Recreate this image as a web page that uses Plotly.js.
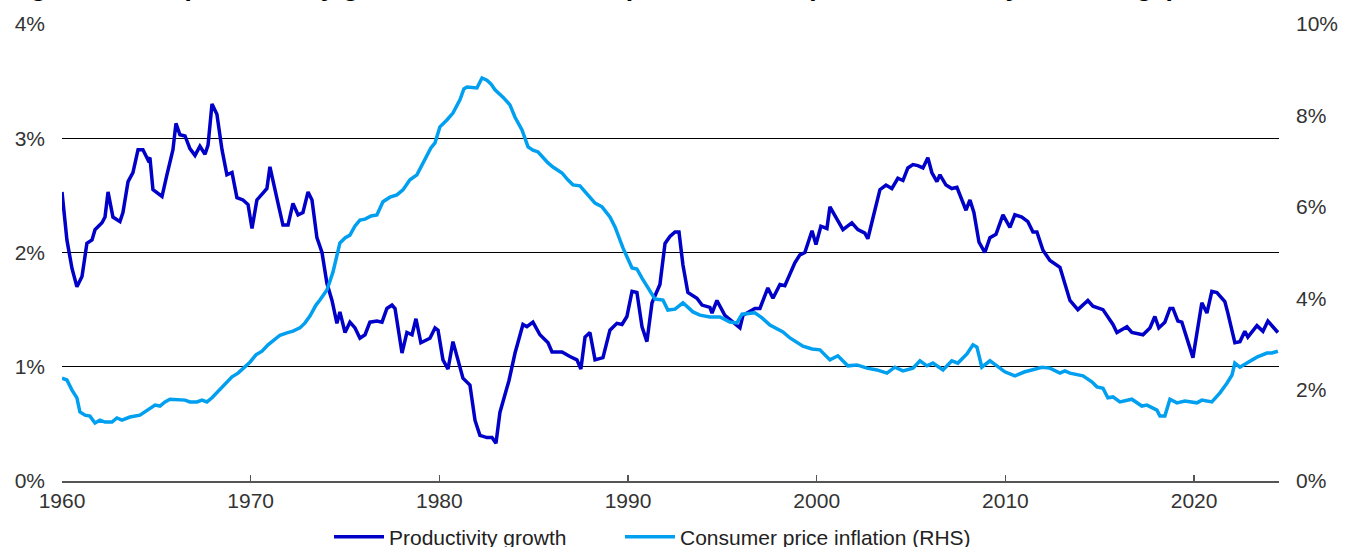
<!DOCTYPE html>
<html>
<head>
<meta charset="utf-8">
<script src="https://cdn.plot.ly/plotly-3.0.1.min.js"></script>
<style>
html,body{margin:0;padding:0;background:#fff;}
#chart{width:1352px;height:547px;}
</style>
</head>
<body>
<div id="chart"></div>
<script>
// Productivity growth (LHS, %)
const prodYears = [1960.00,1960.26,1960.53,1960.79,1961.06,1961.32,1961.59,1961.75,1962.12,1962.28,1962.44,1962.70,1963.07,1963.23,1963.50,1963.76,1964.03,1964.29,1964.56,1964.66,1964.82,1965.30,1965.56,1965.88,1966.04,1966.25,1966.52,1966.78,1967.05,1967.31,1967.58,1967.74,1967.95,1968.21,1968.48,1968.74,1969.01,1969.27,1969.59,1969.86,1970.07,1970.33,1970.65,1970.86,1971.02,1971.18,1971.45,1971.71,1971.98,1972.24,1972.51,1972.77,1973.04,1973.25,1973.51,1973.78,1974.04,1974.31,1974.57,1974.73,1975.00,1975.26,1975.53,1975.79,1976.06,1976.32,1976.69,1976.96,1977.22,1977.49,1977.65,1978.02,1978.28,1978.55,1978.76,1979.02,1979.50,1979.77,1979.93,1980.19,1980.46,1980.72,1980.93,1981.25,1981.62,1981.89,1982.15,1982.52,1982.79,1983.00,1983.21,1983.48,1983.69,1984.01,1984.43,1984.64,1984.96,1985.33,1985.76,1985.97,1986.50,1986.92,1987.29,1987.50,1987.72,1987.98,1988.25,1988.67,1989.04,1989.41,1989.68,1989.94,1990.21,1990.47,1990.74,1991.00,1991.27,1991.69,1991.96,1992.22,1992.49,1992.70,1992.91,1993.17,1993.65,1993.92,1994.34,1994.45,1994.71,1995.13,1995.56,1995.93,1996.09,1996.72,1996.99,1997.41,1997.68,1998.05,1998.31,1998.84,1999.11,1999.37,1999.75,1999.96,2000.22,2000.54,2000.70,2001.07,2001.39,2001.86,2002.18,2002.55,2002.71,2003.08,2003.35,2003.67,2003.98,2004.30,2004.57,2004.83,2005.10,2005.36,2005.63,2005.89,2006.10,2006.37,2006.53,2006.85,2007.16,2007.43,2007.69,2007.91,2008.12,2008.33,2008.60,2008.91,2009.18,2009.50,2009.87,2010.24,2010.50,2010.87,2011.19,2011.46,2011.67,2011.99,2012.36,2012.73,2012.89,2013.42,2013.84,2014.37,2014.64,2015.17,2015.70,2015.91,2016.44,2016.70,2017.29,2017.66,2017.92,2018.13,2018.45,2018.72,2018.88,2019.14,2019.35,2019.94,2020.41,2020.68,2020.94,2021.21,2021.63,2021.79,2022.16,2022.43,2022.69,2022.85,2023.33,2023.65,2023.91,2024.44];
const prodValues = [2.53,2.11,1.86,1.70,1.79,2.08,2.11,2.20,2.26,2.31,2.53,2.31,2.27,2.35,2.62,2.70,2.90,2.90,2.81,2.83,2.55,2.49,2.68,2.90,3.13,3.03,3.02,2.91,2.85,2.93,2.86,2.94,3.30,3.21,2.90,2.68,2.70,2.48,2.46,2.42,2.21,2.46,2.52,2.56,2.75,2.62,2.43,2.24,2.24,2.43,2.33,2.35,2.53,2.46,2.13,2.00,1.73,1.58,1.38,1.48,1.30,1.39,1.34,1.25,1.28,1.39,1.40,1.39,1.51,1.54,1.51,1.12,1.30,1.28,1.42,1.21,1.25,1.34,1.32,1.06,0.98,1.22,1.10,0.90,0.84,0.53,0.40,0.38,0.38,0.33,0.60,0.77,0.88,1.12,1.37,1.35,1.39,1.28,1.21,1.13,1.13,1.09,1.06,0.98,1.26,1.30,1.06,1.08,1.32,1.38,1.37,1.44,1.66,1.65,1.35,1.22,1.56,1.72,2.08,2.14,2.18,2.18,1.89,1.65,1.60,1.54,1.52,1.47,1.58,1.45,1.39,1.34,1.45,1.51,1.51,1.69,1.60,1.72,1.71,1.91,1.98,2.00,2.19,2.07,2.23,2.21,2.40,2.30,2.20,2.26,2.20,2.17,2.12,2.37,2.55,2.59,2.56,2.65,2.63,2.74,2.77,2.76,2.74,2.83,2.70,2.62,2.68,2.59,2.56,2.57,2.46,2.37,2.46,2.35,2.09,2.00,2.13,2.16,2.33,2.22,2.33,2.31,2.27,2.18,2.18,2.02,1.93,1.89,1.87,1.58,1.50,1.58,1.53,1.50,1.37,1.30,1.35,1.30,1.28,1.34,1.44,1.34,1.39,1.51,1.51,1.40,1.39,1.08,1.56,1.47,1.66,1.65,1.57,1.47,1.21,1.22,1.31,1.26,1.36,1.31,1.40,1.30];

// Consumer price inflation (RHS, %)
const cpiYears = [1960.00,1960.26,1960.53,1960.79,1960.95,1961.22,1961.48,1961.75,1962.01,1962.28,1962.65,1962.91,1963.18,1963.60,1964.13,1964.40,1964.66,1964.93,1965.19,1965.46,1965.72,1966.25,1966.52,1966.78,1967.15,1967.42,1967.68,1967.95,1968.21,1968.48,1968.74,1969.01,1969.33,1969.64,1969.96,1970.28,1970.60,1970.92,1971.23,1971.55,1971.92,1972.24,1972.61,1972.88,1973.14,1973.46,1973.67,1974.04,1974.36,1974.73,1975.00,1975.26,1975.53,1975.79,1976.06,1976.38,1976.69,1977.01,1977.38,1977.75,1978.07,1978.44,1978.81,1979.08,1979.34,1979.55,1979.77,1980.03,1980.40,1980.72,1981.09,1981.30,1981.46,1981.73,1981.99,1982.26,1982.52,1982.73,1982.95,1983.37,1983.74,1984.01,1984.38,1984.70,1984.96,1985.23,1985.49,1985.76,1986.02,1986.50,1986.81,1987.08,1987.45,1987.88,1988.25,1988.62,1989.04,1989.31,1989.73,1990.21,1990.47,1990.74,1991.05,1991.43,1991.85,1992.11,1992.49,1992.91,1993.44,1993.81,1994.34,1994.87,1995.40,1995.77,1996.04,1996.72,1997.10,1997.52,1998.21,1998.58,1999.27,1999.75,2000.17,2000.70,2001.12,2001.65,2002.13,2002.66,2003.19,2003.72,2004.14,2004.57,2005.10,2005.47,2005.84,2006.16,2006.69,2007.16,2007.48,2007.96,2008.28,2008.49,2008.75,2009.18,2009.55,2009.97,2010.50,2011.03,2011.40,2011.93,2012.36,2012.89,2013.15,2013.42,2014.11,2014.58,2014.85,2015.17,2015.43,2015.70,2016.07,2016.70,2017.23,2017.50,2018.03,2018.19,2018.45,2018.72,2019.09,2019.51,2020.15,2020.41,2020.94,2021.37,2021.74,2022.01,2022.16,2022.43,2022.80,2023.33,2023.86,2024.12,2024.44];
const cpiValues = [2.25,2.21,1.99,1.82,1.51,1.44,1.42,1.27,1.33,1.29,1.29,1.38,1.33,1.40,1.44,1.51,1.58,1.66,1.64,1.73,1.79,1.77,1.77,1.73,1.73,1.77,1.73,1.82,1.93,2.04,2.17,2.28,2.36,2.47,2.60,2.76,2.84,2.98,3.09,3.19,3.24,3.28,3.35,3.46,3.61,3.85,3.96,4.18,4.57,5.21,5.32,5.38,5.58,5.71,5.73,5.80,5.82,6.11,6.21,6.26,6.37,6.59,6.70,6.91,7.13,7.29,7.40,7.75,7.90,8.05,8.34,8.58,8.62,8.60,8.60,8.82,8.77,8.69,8.56,8.40,8.23,7.96,7.68,7.31,7.24,7.20,7.07,6.96,6.87,6.74,6.59,6.48,6.46,6.26,6.08,6.00,5.78,5.56,5.10,4.66,4.64,4.44,4.22,3.98,3.96,3.74,3.76,3.90,3.70,3.63,3.59,3.59,3.48,3.46,3.65,3.68,3.57,3.41,3.26,3.13,2.95,2.89,2.87,2.65,2.74,2.52,2.54,2.47,2.43,2.36,2.49,2.41,2.47,2.63,2.52,2.58,2.43,2.63,2.58,2.78,2.98,2.93,2.49,2.63,2.52,2.39,2.30,2.39,2.43,2.49,2.47,2.36,2.41,2.36,2.30,2.17,2.06,2.03,1.82,1.84,1.73,1.79,1.64,1.66,1.55,1.42,1.42,1.79,1.71,1.75,1.71,1.77,1.73,1.93,2.14,2.32,2.58,2.49,2.58,2.71,2.80,2.80,2.84];

const seriesNames = ['Productivity growth', 'Consumer price inflation (RHS)'];
const leftTicks = [0, 1, 2, 3, 4];
const leftTickLabels = ['0%', '1%', '2%', '3%', '4%'];
const rightTicks = [0, 2, 4, 6, 8, 10];
const rightTickLabels = ['0%', '2%', '4%', '6%', '8%', '10%'];
const xTicks = [1960, 1970, 1980, 1990, 2000, 2010, 2020];
const titleText = 'Figure 10: US productivity growth and consumer price inflation (annualised, 10-year average)';

const FONT = 'Liberation Sans, Arial, sans-serif';

const traces = [
  {x: prodYears, y: prodValues, name: seriesNames[0], type: 'scatter', mode: 'lines',
   line: {color: '#0000c8', width: 3.5}, yaxis: 'y', legend: 'legend'},
  {x: cpiYears, y: cpiValues, name: seriesNames[1], type: 'scatter', mode: 'lines',
   line: {color: '#009ff0', width: 3.5}, yaxis: 'y2', legend: 'legend2'}
];

const legendBase = {orientation: 'h', xref: 'container', yref: 'container', xanchor: 'left',
  yanchor: 'middle', y: 0.018, itemwidth: 50, borderwidth: 0, bgcolor: 'rgba(0,0,0,0)',
  font: {family: FONT, size: 21, color: '#222222'}};

const layout = {
  width: 1352, height: 547,
  margin: {l: 62, r: 73, t: 24, b: 66, pad: 0, autoexpand: false},
  paper_bgcolor: '#ffffff', plot_bgcolor: '#ffffff',
  font: {family: FONT, size: 21, color: '#333333'},
  showlegend: true,
  legend: Object.assign({}, legendBase, {x: 329 / 1352}),
  legend2: Object.assign({}, legendBase, {x: 620 / 1352}),
  xaxis: {range: [1960, 2024.5], tickvals: xTicks, ticktext: xTicks.map(String),
          showgrid: false, zeroline: false, showline: true, linecolor: '#555555', linewidth: 1.5,
          ticks: 'inside', ticklen: 6, tickcolor: '#555555', tickwidth: 1.5,
          ticklabelstandoff: 0, tickfont: {family: FONT, size: 21, color: '#333333'}},
  yaxis: {range: [0, 4], tickvals: leftTicks, ticktext: leftTickLabels,
          showgrid: true, gridcolor: '#000000', gridwidth: 1, zeroline: false, showline: false,
          ticks: '', ticklabelstandoff: 16, tickfont: {family: FONT, size: 21, color: '#333333'}},
  yaxis2: {range: [0, 10], tickvals: rightTicks, ticktext: rightTickLabels, overlaying: 'y', side: 'right',
           showgrid: false, zeroline: false, showline: false, ticks: '', ticklabelstandoff: 16,
           tickfont: {family: FONT, size: 21, color: '#333333'}},
  annotations: [{text: '<b>' + titleText + '</b>', xref: 'paper', yref: 'paper',
                 x: -0.0468, xanchor: 'left', y: 1, yanchor: 'bottom', yshift: 20, showarrow: false,
                 font: {family: FONT, size: 26.4, color: '#000000'}}]
};

Plotly.newPlot('chart', traces, layout, {displayModeBar: false, staticPlot: true});
</script>
</body>
</html>
